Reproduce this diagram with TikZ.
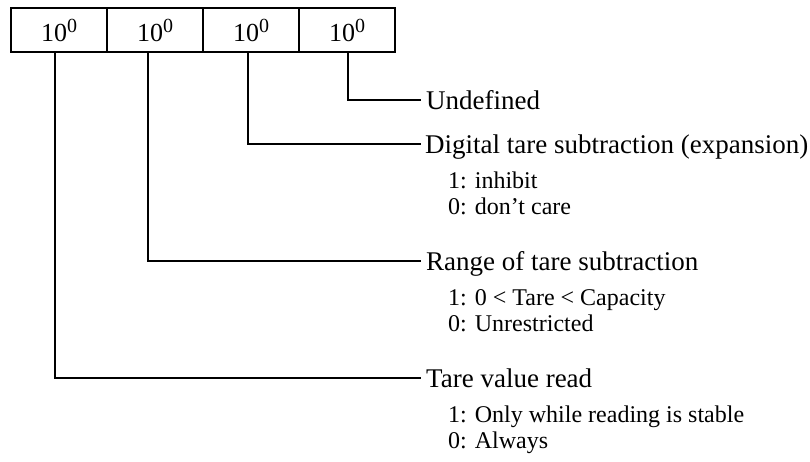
\documentclass[tikz,border=0pt]{standalone}
\usepackage{fontspec}
\setmainfont{Liberation Serif}
\newcommand{\supzero}{\raisebox{9pt}{\fontsize{20}{24}\selectfont 0}}
\begin{document}
\begin{tikzpicture}[x=1pt,y=-1pt,
  cell/.style={draw,line width=2.2pt,minimum width=96pt,minimum height=44pt,inner sep=0pt,font=\fontsize{26}{30}\selectfont},
  wire/.style={line width=2.2pt},
  head/.style={anchor=base west,inner sep=0pt,font=\fontsize{27}{32}\selectfont},
  sub/.style={anchor=base west,inner sep=0pt,font=\fontsize{24}{28}\selectfont}]
\useasboundingbox (0,0) rectangle (810,461);
\node[cell] (c1) at (59,30) {10\supzero};
\node[cell] (c2) at (155,30) {10\supzero};
\node[cell] (c3) at (251,30) {10\supzero};
\node[cell] (c4) at (347,30) {10\supzero};
% line ends
\coordinate (e4) at (421,100);
\coordinate (e3) at (421,144);
\coordinate (e2) at (421,261);
\coordinate (e1) at (421,378);
% labels
\node[head] (l4) at (426,109) {Undefined};
\node[head] (l3) at (425,153) {Digital tare subtraction (expansion)};
\node[sub] (l3a) at (448,188) {1: inhibit};
\node[sub] (l3b) at (448,214) {0: don’t care};
\node[head] (l2) at (426,270) {Range of tare subtraction};
\node[sub] (l2a) at (448,305) {1: 0 < Tare < Capacity};
\node[sub] (l2b) at (448,331) {0: Unrestricted};
\node[head] (l1) at (426,387) {Tare value read};
\node[sub] (l1a) at (448,422) {1: Only while reading is stable};
\node[sub] (l1b) at (448,448) {0: Always};
% connectors
\draw[wire] ([xshift=1pt]c4.south) |- (e4);
\draw[wire] ([xshift=-3pt]c3.south) |- (e3);
\draw[wire] ([xshift=-7pt]c2.south) |- (e2);
\draw[wire] ([xshift=-4pt]c1.south) |- (e1);
\end{tikzpicture}
\end{document}
